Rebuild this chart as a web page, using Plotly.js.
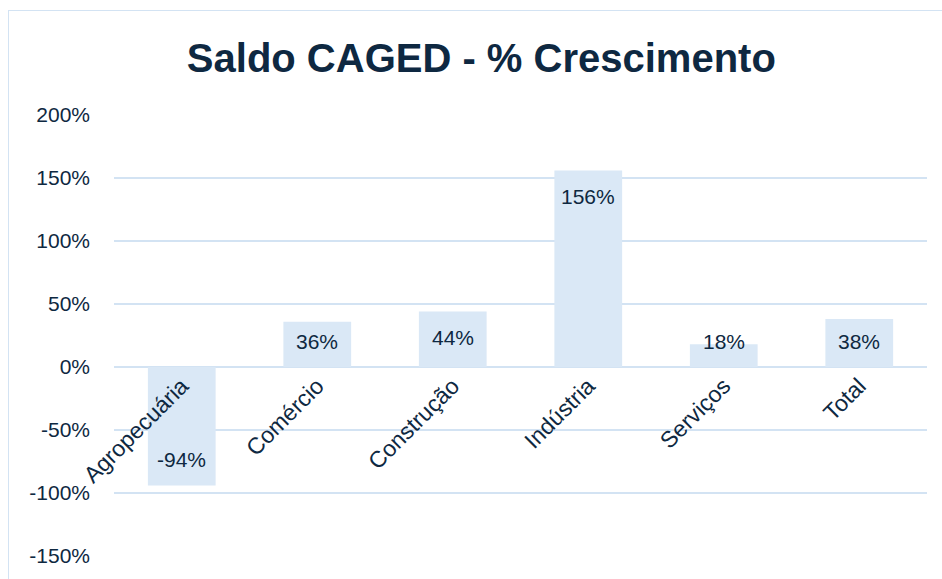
<!DOCTYPE html>
<html>
<head>
<meta charset="utf-8">
<script src="https://cdn.plot.ly/plotly-3.0.1.min.js"></script>
<style>
html,body{margin:0;padding:0;background:#fff;overflow:hidden;}
#chart{width:942px;height:579px;}
#frame{position:absolute;left:8px;top:10px;width:1000px;height:700px;border:1.5px solid #d3e3f3;pointer-events:none;box-sizing:border-box;}
</style>
</head>
<body>
<div id="chart"></div>
<div id="frame"></div>
<script>
const categories = ["Agropecuária", "Comércio", "Construção", "Indústria", "Serviços", "Total"];
const growthPct = [-94, 36, 44, 156, 18, 38];
const yTickVals = [-150, -100, -50, 0, 50, 100, 150, 200];
const yTickText = ["-150%", "-100%", "-50%", "0%", "50%", "100%", "150%", "200%"];

const navy = "#0e2841";
const fontFam = "Liberation Sans, Arial, sans-serif";
const yMin = -150, yMax = 200;
const labelInset = 20.6; // data units from bar end to label centre

const trace = {
  type: "bar",
  x: categories,
  y: growthPct,
  marker: {color: "#dae8f6", line: {width: 0}},
  width: 0.5,
  hoverinfo: "skip"
};

const annotations = categories.map((c, i) => {
  const v = growthPct[i];
  const yc = v >= 0 ? Math.max(v - labelInset, labelInset) : Math.min(v + labelInset, -labelInset);
  return {
    x: c, y: yc, xref: "x", yref: "y",
    text: v + "%", showarrow: false,
    xanchor: "center", yanchor: "middle",
    font: {family: fontFam, size: 21, color: navy}
  };
});

const layout = {
  width: 942, height: 579,
  margin: {l: 114, r: 15, t: 115, b: 23},
  paper_bgcolor: "#ffffff",
  plot_bgcolor: "#ffffff",
  showlegend: false,
  title: {
    text: "<b>Saldo CAGED - % Crescimento</b>",
    font: {family: fontFam, size: 40, color: navy},
    x: 0.511, xanchor: "center", y: 0.9, yanchor: "middle", yref: "container"
  },
  annotations: annotations,
  xaxis: {
    type: "category",
    anchor: "free",
    position: (0 - yMin) / (yMax - yMin),
    tickangle: -45,
    showgrid: false, showline: false, zeroline: false,
    ticks: "",
    tickfont: {family: fontFam, size: 23, color: navy},
    fixedrange: true
  },
  yaxis: {
    range: [yMin, yMax],
    tickvals: yTickVals,
    ticktext: yTickText,
    showgrid: true, gridcolor: "#d3e3f3", gridwidth: 1.5,
    zeroline: false, showline: false, ticks: "",
    ticklabelstandoff: 23,
    tickfont: {family: fontFam, size: 21, color: navy},
    fixedrange: true
  }
};

Plotly.newPlot("chart", [trace], layout, {displayModeBar: false, staticPlot: true});
</script>
</body>
</html>
